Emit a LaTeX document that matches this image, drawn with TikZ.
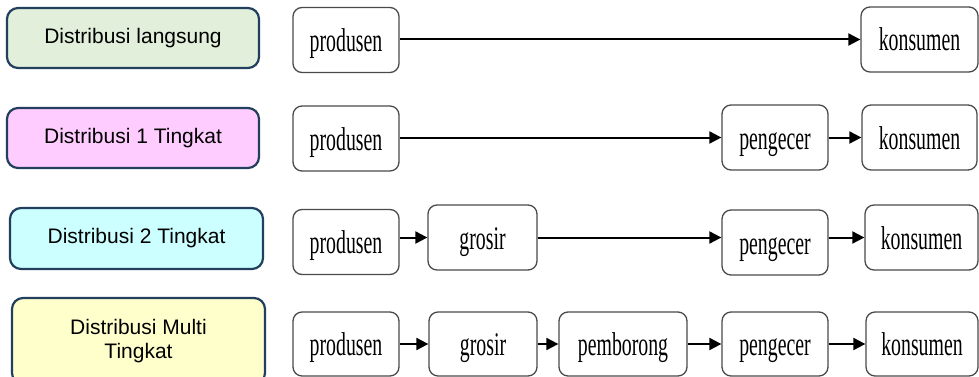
\documentclass[tikz,border=0pt]{standalone}
\usepackage{fontspec}
\setmainfont{Liberation Sans}
\newfontfamily\narrowserif[FakeStretch=0.6]{Liberation Serif}
\usetikzlibrary{arrows.meta}

\definecolor{labelframe}{HTML}{223F5E}
\definecolor{greenfill}{HTML}{E2EFDA}
\definecolor{pinkfill}{HTML}{FFCCFF}
\definecolor{cyanfill}{HTML}{CCFFFF}
\definecolor{yellowfill}{HTML}{FFFFCC}
\definecolor{stepframe}{HTML}{4A4A4A}

\tikzset{
  x=1pt, y=-1pt,
  labelbox/.style={draw=labelframe, line width=2.2pt, rounded corners=11pt,
    minimum width=252pt, minimum height=60pt, align=center, inner sep=0pt,
    font=\fontsize{21}{24}\selectfont},
  stepbox/.style={draw=stepframe, line width=1.3pt, rounded corners=9pt, fill=white,
    minimum height=65pt, inner sep=0pt, text height=27pt, text depth=4pt,
    font=\narrowserif\fontsize{33}{36}\selectfont},
  flow/.style={line width=2pt, -{Triangle[length=12pt,width=12pt]}}
}

\begin{document}
\begin{tikzpicture}
\clip (0,0) rectangle (979,377);

% channel labels
\node[labelbox, fill=greenfill]  (l1) at (133,38)    {Distribusi langsung};
\node[labelbox, fill=pinkfill]   (l2) at (133,138)   {Distribusi 1 Tingkat};
\node[labelbox, fill=cyanfill, minimum width=253pt, minimum height=61pt]
                                 (l3) at (136.5,238.5) {Distribusi 2 Tingkat};
\node[labelbox, fill=yellowfill, minimum width=253pt, minimum height=86pt]
                                 (l4) at (138.5,341) {Distribusi Multi\\Tingkat};

% direct channel
\node[stepbox, minimum width=106pt] (p1) at (346,40)    {produsen};
\node[stepbox, minimum width=117pt] (k1) at (919.5,39.5) {konsumen};
\draw[flow] (p1.east |- k1.west) -- (k1.west);

% one-level channel
\node[stepbox, minimum width=106pt] (p2) at (346,138.5) {produsen};
\node[stepbox, minimum width=106pt] (e2) at (775,137.5) {pengecer};
\node[stepbox, minimum width=115pt] (k2) at (919.5,137.5) {konsumen};
\draw[flow] (p2.east |- e2.west) -- (e2.west);
\draw[flow] (e2.east) -- (k2.west);

% two-level channel
\node[stepbox, minimum width=106pt] (p3) at (346,242)   {produsen};
\node[stepbox, minimum width=109pt] (g3) at (482.5,237.5) {grosir};
\node[stepbox, minimum width=106pt] (e3) at (775,242.5) {pengecer};
\node[stepbox, minimum width=113pt] (k3) at (921.5,237.5) {konsumen};
\draw[flow] (p3.east |- g3.west) -- (g3.west);
\draw[flow] (g3.east) -- (g3.east -| e3.west);
\draw[flow] (e3.east |- k3.west) -- (k3.west);

% multi-level channel
\node[stepbox, minimum width=106pt, minimum height=64pt] (p4) at (346,344) {produsen};
\node[stepbox, minimum width=108pt, minimum height=64pt] (g4) at (483,344) {grosir};
\node[stepbox, minimum width=128pt, minimum height=64pt] (b4) at (623,344) {pemborong};
\node[stepbox, minimum width=106pt, minimum height=64pt] (e4) at (775,344) {pengecer};
\node[stepbox, minimum width=112pt, minimum height=64pt] (k4) at (922,344) {konsumen};
\draw[flow] (p4) -- (g4);
\draw[flow] (g4) -- (b4);
\draw[flow] (b4) -- (e4);
\draw[flow] (e4) -- (k4);
\end{tikzpicture}
\end{document}
